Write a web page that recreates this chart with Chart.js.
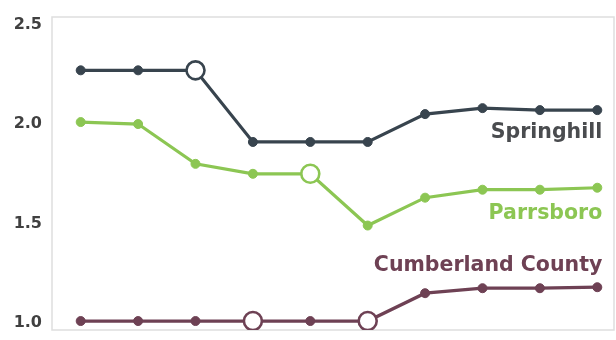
<!DOCTYPE html>
<html>
<head>
<meta charset="utf-8">
<script src="https://cdn.jsdelivr.net/npm/chart.js@4/dist/chart.umd.min.js"></script>
<style>
  html, body { margin: 0; padding: 0; background: #fff; }
  #wrap { width: 616px; height: 340px; }
</style>
</head>
<body>
<div id="wrap"><canvas id="c"></canvas></div>
<script>
// data, one value per period
const periods = [1, 2, 3, 4, 5, 6, 7, 8, 9, 10];
const springhill = [2.26, 2.26, 2.26, 1.90, 1.90, 1.90, 2.04, 2.07, 2.06, 2.06];
const parrsboro = [2.00, 1.99, 1.79, 1.74, 1.74, 1.48, 1.62, 1.66, 1.66, 1.67];
const cumberland = [1.00, 1.00, 1.00, 1.00, 1.00, 1.00, 1.14, 1.165, 1.165, 1.17];
// which points are drawn as hollow rings
const springhillOpen = [2];
const parrsboroOpen = [4];
const cumberlandOpen = [3, 5];
const yTicks = [1.0, 1.5, 2.0, 2.5];

const seriesNames = ['Springhill', 'Parrsboro', 'Cumberland County'];
const lineColors = ['#38444e', '#8cc653', '#6e4154'];
const textColors = ['#4a4c4f', '#8cc653', '#6e4154'];
const labelShift = [23, 26, -22];

function makeSet(name, values, open, color) {
  return {
    label: name,
    data: values.map((v, i) => ({ x: i, y: v })),
    borderColor: color,
    borderWidth: 3.2,
    pointRadius: values.map((v, i) => open.includes(i) ? 9 : 4.5),
    pointBackgroundColor: values.map((v, i) => open.includes(i) ? '#fff' : color),
    pointBorderColor: color,
    pointBorderWidth: values.map((v, i) => open.includes(i) ? 2.6 : 1),
    tension: 0
  };
}

// light frame round the plot, stretched to the canvas' right edge
const boxPlugin = {
  id: 'box',
  beforeDatasetsDraw(chart) {
    const a = chart.chartArea, ctx = chart.ctx;
    ctx.save();
    ctx.strokeStyle = '#dedede';
    ctx.lineWidth = 1.5;
    ctx.strokeRect(a.left, a.top, chart.width - 2 - a.left, a.bottom - a.top);
    ctx.restore();
  }
};

const labelPlugin = {
  id: 'endLabels',
  afterDatasetsDraw(chart) {
    const ctx = chart.ctx;
    ctx.save();
    ctx.font = 'bold 20.5px "DejaVu Sans"';
    ctx.textAlign = 'right';
    ctx.textBaseline = 'middle';
    chart.data.datasets.forEach((ds, k) => {
      const meta = chart.getDatasetMeta(k);
      const last = meta.data[meta.data.length - 1];
      ctx.fillStyle = textColors[k];
      ctx.fillText(seriesNames[k], last.x + 5, last.y + labelShift[k]);
    });
    ctx.restore();
  }
};

function noPad(scale) {
  scale.paddingTop = 0;
  scale.paddingBottom = 0;
  scale.paddingLeft = 0;
  scale.paddingRight = 0;
}

new Chart(document.getElementById('c'), {
  type: 'line',
  data: {
    labels: periods,
    datasets: [
      makeSet(seriesNames[0], springhill, springhillOpen, lineColors[0]),
      makeSet(seriesNames[1], parrsboro, parrsboroOpen, lineColors[1]),
      makeSet(seriesNames[2], cumberland, cumberlandOpen, lineColors[2])
    ]
  },
  options: {
    responsive: true,
    maintainAspectRatio: false,
    animation: false,
    layout: { padding: { top: 17, bottom: 10, right: 0, left: 0 } },
    plugins: { legend: { display: false }, tooltip: { enabled: false } },
    scales: {
      x: {
        type: 'linear',
        min: -0.5,
        max: 9.23,
        display: false,
        afterFit: noPad
      },
      y: {
        min: 0.955,
        max: 2.528,
        afterBuildTicks(scale) { scale.ticks = yTicks.map(v => ({ value: v })); },
        afterFit(scale) { scale.width = 52; noPad(scale); },
        grid: { display: false, drawTicks: false, tickLength: 0 },
        border: { display: false },
        ticks: {
          padding: 10,
          labelOffset: 2,
          color: '#404040',
          font: { family: '"DejaVu Sans"', weight: 'bold', size: 16 },
          callback: v => v.toFixed(1)
        }
      }
    }
  },
  plugins: [boxPlugin, labelPlugin]
});
</script>
</body>
</html>
